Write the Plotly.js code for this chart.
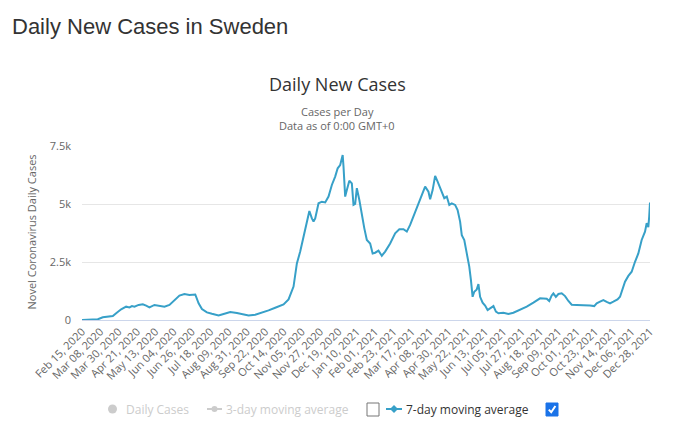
<!DOCTYPE html>
<html>
<head>
<meta charset="utf-8">
<script src="https://cdn.plot.ly/plotly-3.0.1.min.js"></script>
<style>
  html, body { margin: 0; padding: 0; background: #fff; }
  #chart { width: 700px; height: 434px; }
</style>
</head>
<body>
<div id="chart"></div>
<script>
// ---- data ----
const dates = [
  '2020-02-15','2020-03-05','2020-03-11','2020-03-17','2020-03-23','2020-03-27','2020-04-02','2020-04-08',
  '2020-04-12','2020-04-15','2020-04-18','2020-04-23','2020-04-28','2020-05-02','2020-05-06','2020-05-12',
  '2020-05-18','2020-05-24','2020-05-30','2020-06-05','2020-06-11','2020-06-17','2020-06-23','2020-06-30',
  '2020-07-04','2020-07-08','2020-07-14','2020-07-20','2020-07-28','2020-08-03','2020-08-11','2020-08-19',
  '2020-08-27','2020-09-02','2020-09-10','2020-09-18','2020-09-26','2020-10-04','2020-10-14','2020-10-20',
  '2020-10-26','2020-10-30','2020-11-03','2020-11-07','2020-11-11','2020-11-14','2020-11-17','2020-11-19',
  '2020-11-21','2020-11-25','2020-11-29','2020-12-03','2020-12-07','2020-12-11','2020-12-15','2020-12-18',
  '2020-12-21','2020-12-24','2020-12-25','2020-12-27','2020-12-29','2021-01-01','2021-01-04','2021-01-06',
  '2021-01-08','2021-01-10','2021-01-13','2021-01-16','2021-01-19','2021-01-22','2021-01-26','2021-01-29',
  '2021-02-01','2021-02-05','2021-02-09','2021-02-13','2021-02-19','2021-02-25','2021-03-02','2021-03-07',
  '2021-03-11','2021-03-15','2021-03-21','2021-03-27','2021-04-02','2021-04-06','2021-04-08','2021-04-11',
  '2021-04-14','2021-04-17','2021-04-20','2021-04-23','2021-04-25','2021-04-28','2021-05-01','2021-05-04',
  '2021-05-08','2021-05-11','2021-05-14','2021-05-16','2021-05-19','2021-05-22','2021-05-25','2021-05-27',
  '2021-05-29','2021-05-31','2021-06-03','2021-06-05','2021-06-07','2021-06-10','2021-06-13','2021-06-16',
  '2021-06-19','2021-06-23','2021-06-26','2021-06-29','2021-07-05','2021-07-11','2021-07-17','2021-07-25',
  '2021-08-02','2021-08-10','2021-08-18','2021-08-26','2021-08-29','2021-09-01','2021-09-03','2021-09-06',
  '2021-09-09','2021-09-13','2021-09-17','2021-09-21','2021-09-25','2021-10-01','2021-10-09','2021-10-17',
  '2021-10-22','2021-10-25','2021-10-29','2021-11-02','2021-11-06','2021-11-10','2021-11-14','2021-11-19',
  '2021-11-22','2021-11-25','2021-11-28','2021-12-02','2021-12-06','2021-12-10','2021-12-14','2021-12-18',
  '2021-12-22','2021-12-24','2021-12-26','2021-12-27','2021-12-28'
];
const avg7 = [
  0, 30, 115, 145, 170, 290, 460, 575,
  545, 600, 575, 650, 675, 620, 545, 650,
  600, 575, 650, 830, 1050, 1120, 1080, 1100,
  720, 475, 330, 270, 200, 260, 345, 300,
  230, 190, 230, 315, 415, 530, 675, 890,
  1440, 2440, 2950, 3590, 4310, 4700, 4380, 4240,
  4380, 5030, 5100, 5070, 5320, 5820, 6180, 6540,
  6680, 7110, 6610, 5320, 5600, 6000, 5890, 4960,
  5000, 5680, 5170, 4530, 3950, 3450, 3300, 2870,
  2900, 2990, 2770, 2950, 3300, 3740, 3910, 3910,
  3810, 4100, 4670, 5250, 5750, 5530, 5200, 5600,
  6210, 5960, 5680, 5460, 5250, 5320, 4960, 5030,
  4960, 4740, 4240, 3660, 3450, 2870, 2300, 1720,
  1000, 1220, 1320, 1550, 1000, 750, 620, 430,
  500, 600, 360, 290, 315, 260, 315, 430,
  575, 750, 935, 920, 820, 1060, 1150, 1000,
  1120, 1150, 1030, 820, 660, 650, 650, 620,
  600, 720, 790, 860, 780, 720, 790, 890,
  1000, 1290, 1650, 1900, 2080, 2510, 2870, 3450,
  3810, 4170, 4000, 4450, 5060
];
const tickDates = [
  '2020-02-15','2020-03-08','2020-03-30','2020-04-21','2020-05-13','2020-06-04','2020-06-26','2020-07-18',
  '2020-08-09','2020-08-31','2020-09-22','2020-10-14','2020-11-05','2020-11-27','2020-12-19','2021-01-10',
  '2021-02-01','2021-02-23','2021-03-17','2021-04-08','2021-04-30','2021-05-22','2021-06-13','2021-07-05',
  '2021-07-27','2021-08-18','2021-09-09','2021-10-01','2021-10-23','2021-11-14','2021-12-06','2021-12-28'
];
const tickLabels = [
  'Feb 15, 2020','Mar 08, 2020','Mar 30, 2020','Apr 21, 2020','May 13, 2020','Jun 04, 2020','Jun 26, 2020','Jul 18, 2020',
  'Aug 09, 2020','Aug 31, 2020','Sep 22, 2020','Oct 14, 2020','Nov 05, 2020','Nov 27, 2020','Dec 19, 2020','Jan 10, 2021',
  'Feb 01, 2021','Feb 23, 2021','Mar 17, 2021','Apr 08, 2021','Apr 30, 2021','May 22, 2021','Jun 13, 2021','Jul 05, 2021',
  'Jul 27, 2021','Aug 18, 2021','Sep 09, 2021','Oct 01, 2021','Oct 23, 2021','Nov 14, 2021','Dec 06, 2021','Dec 28, 2021'
];
const yTickVals = [0, 2500, 5000, 7500];
const yTickText = ['0', '2.5k', '5k', '7.5k'];
const legendNames = ['Daily Cases', '3-day moving average', '7-day moving average'];

// ---- layout helpers (pixel -> paper) ----
const L = 82, R = 650, T = 146, B = 320;
const px = x => (x - L) / (R - L);
const py = y => (B - y) / (B - T);
const HC = 'Open Sans, DejaVu Sans, sans-serif';
const lineColor = '#37a0c8';

const trace = {
  x: dates, y: avg7, type: 'scatter', mode: 'lines',
  line: { color: lineColor, width: 2 },
  hoverinfo: 'skip', showlegend: false
};

const ann = (x, y, text, size, color, xanchor, extra) => Object.assign({
  xref: 'paper', yref: 'paper', x: px(x), y: py(y), text: text, showarrow: false,
  xanchor: xanchor || 'center', yanchor: 'middle',
  font: { family: HC, size: size, color: color }
}, extra || {});

const legY = 409;
const annotations = [
  ann(10, 26.3, 'Daily New Cases in Sweden', 22, '#333', 'left', { font: { family: 'Liberation Sans, Arial, sans-serif', size: 22, color: '#333' } }),
  ann(337, 83.7, 'Daily New Cases', 18, '#333'),
  ann(337, 111, 'Cases per Day', 11, '#666'),
  ann(337, 125, 'Data as of 0:00 GMT+0', 11, '#666'),
  ann(31, 232.5, 'Novel Coronavirus Daily Cases', 11, '#666', 'center', { textangle: -90 }),
  ann(124, legY, legendNames[0], 12, '#cccccc', 'left'),
  ann(224, legY, legendNames[1], 12, '#cccccc', 'left'),
  ann(404, legY, legendNames[2], 12, '#333333', 'left')
];

const rect = (x0, y0, x1, y1, fill, stroke) => ({
  type: 'rect', xref: 'paper', yref: 'paper',
  x0: px(x0), x1: px(x1), y0: py(y1), y1: py(y0),
  fillcolor: fill, line: { color: stroke, width: 1 }, layer: 'above'
});
const shapes = [
  // Daily cases dot
  { type: 'circle', xref: 'paper', yref: 'paper', x0: px(108), x1: px(117), y0: py(413.5), y1: py(404.5),
    fillcolor: '#cccccc', line: { width: 0 } },
  // 3-day symbol
  { type: 'line', xref: 'paper', yref: 'paper', x0: px(207), x1: px(222), y0: py(legY), y1: py(legY),
    line: { color: '#cccccc', width: 2 } },
  { type: 'circle', xref: 'paper', yref: 'paper', x0: px(211.5), x1: px(217.5), y0: py(412), y1: py(406),
    fillcolor: '#cccccc', line: { width: 0 } },
  // unchecked checkbox
  rect(367, 403, 379, 416, '#ffffff', '#767676'),
  // 7-day symbol
  { type: 'line', xref: 'paper', yref: 'paper', x0: px(386), x1: px(402), y0: py(legY), y1: py(legY),
    line: { color: lineColor, width: 2 } },
  { type: 'path', xref: 'paper', yref: 'paper',
    path: 'M' + px(394) + ',' + py(legY - 4) + ' L' + px(398) + ',' + py(legY) + ' L' + px(394) + ',' + py(legY + 4) + ' L' + px(390) + ',' + py(legY) + ' Z',
    fillcolor: lineColor, line: { width: 0 } },
  // checked checkbox
  rect(546, 403, 558, 416, '#1a73e8', '#1a73e8'),
  { type: 'path', xref: 'paper', yref: 'paper',
    path: 'M' + px(548.8) + ',' + py(409.6) + ' L' + px(551.2) + ',' + py(412.2) + ' L' + px(555.4) + ',' + py(406),
    line: { color: '#ffffff', width: 2 } }
];

const layout = {
  width: 700, height: 434,
  margin: { l: L, r: 700 - R, t: T, b: 434 - B, pad: 0 },
  paper_bgcolor: '#ffffff', plot_bgcolor: '#ffffff',
  showlegend: false,
  xaxis: {
    type: 'date', range: ['2020-02-15', '2021-12-28'],
    tickmode: 'array', tickvals: tickDates, ticktext: tickLabels,
    tickangle: -45, ticks: '', showgrid: false, zeroline: false,
    showline: true, linecolor: '#ccd6eb', linewidth: 1,
    tickfont: { family: HC, size: 11, color: '#666666' },
    fixedrange: true
  },
  yaxis: {
    range: [0, 7500], tickmode: 'array', tickvals: yTickVals, ticktext: yTickText,
    ticks: '', showgrid: true, gridcolor: '#e6e6e6', gridwidth: 1, zeroline: false, showline: false,
    tickfont: { family: HC, size: 11, color: '#666666' }, ticklabelstandoff: 10,
    fixedrange: true
  },
  annotations: annotations,
  shapes: shapes
};

Plotly.newPlot('chart', [trace], layout, { displayModeBar: false, staticPlot: true });
</script>
</body>
</html>
